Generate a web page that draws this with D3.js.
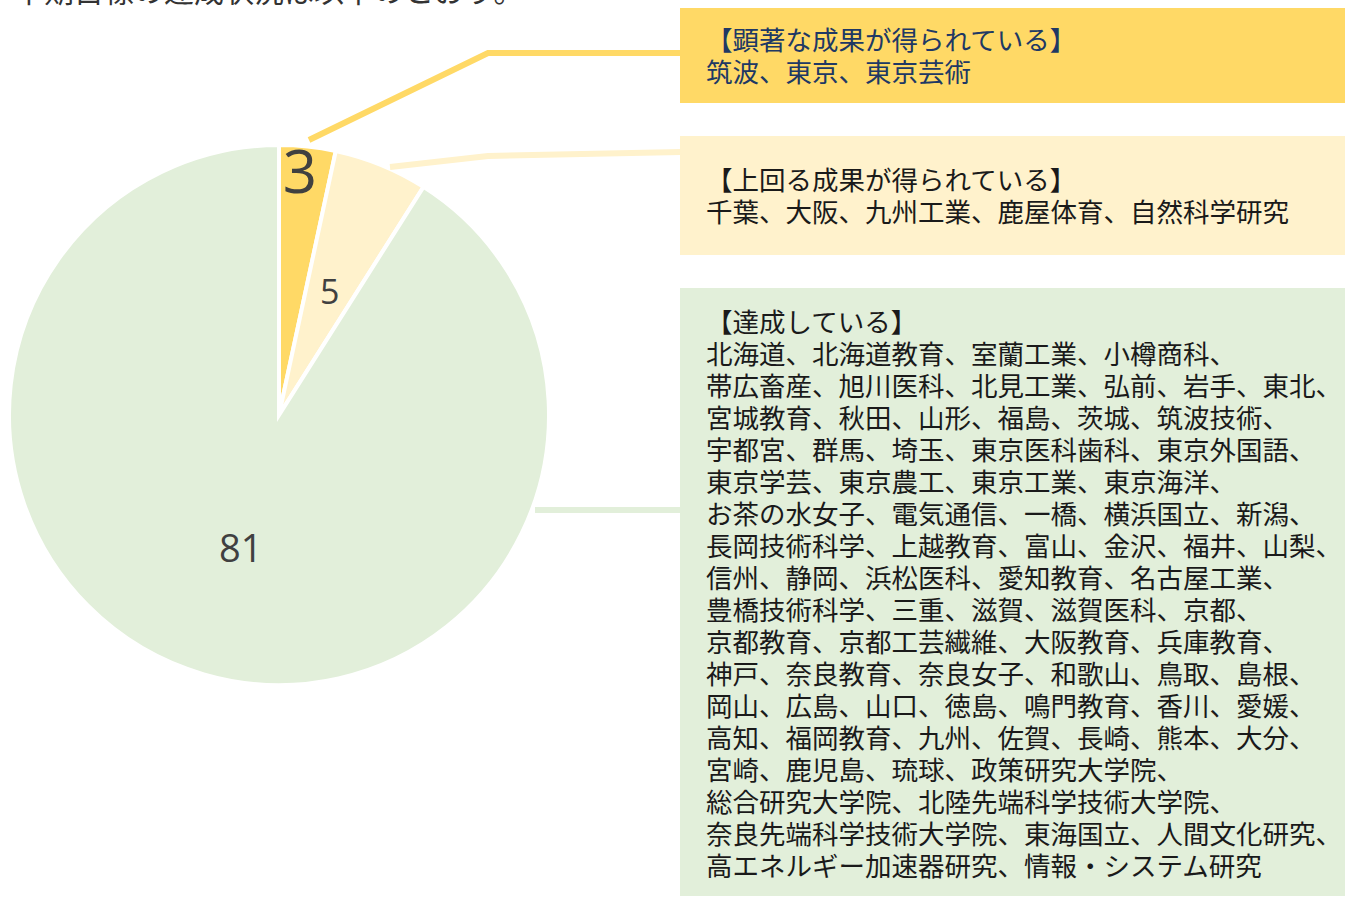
<!DOCTYPE html>
<html lang="ja">
<head>
<meta charset="utf-8">
<script src="https://cdn.jsdelivr.net/npm/d3@7"></script>
<style>
  body { margin: 0; background: #fff; }
  svg { display: block; }
  .jp { font-family: "Noto Sans CJK JP", sans-serif; }
  .num { font-family: "Open Sans", "Noto Sans", sans-serif; fill: #404040; }
</style>
</head>
<body>
<script>
  // data
  const categories = ['顕著な成果が得られている', '上回る成果が得られている', '達成している']
  const counts = [3, 5, 81]
  const colors = ['#ffd966', '#fff2cc', '#e2efda']
  const titleText = '中期目標の達成状況は以下のとおり。'

  const namesNotable = [
    '筑波、東京、東京芸術'
  ]
  const namesAbove = [
    '千葉、大阪、九州工業、鹿屋体育、自然科学研究'
  ]
  const namesAchieved = [
    '北海道、北海道教育、室蘭工業、小樽商科、',
    '帯広畜産、旭川医科、北見工業、弘前、岩手、東北、',
    '宮城教育、秋田、山形、福島、茨城、筑波技術、',
    '宇都宮、群馬、埼玉、東京医科歯科、東京外国語、',
    '東京学芸、東京農工、東京工業、東京海洋、',
    'お茶の水女子、電気通信、一橋、横浜国立、新潟、',
    '長岡技術科学、上越教育、富山、金沢、福井、山梨、',
    '信州、静岡、浜松医科、愛知教育、名古屋工業、',
    '豊橋技術科学、三重、滋賀、滋賀医科、京都、',
    '京都教育、京都工芸繊維、大阪教育、兵庫教育、',
    '神戸、奈良教育、奈良女子、和歌山、鳥取、島根、',
    '岡山、広島、山口、徳島、鳴門教育、香川、愛媛、',
    '高知、福岡教育、九州、佐賀、長崎、熊本、大分、',
    '宮崎、鹿児島、琉球、政策研究大学院、',
    '総合研究大学院、北陸先端科学技術大学院、',
    '奈良先端科学技術大学院、東海国立、人間文化研究、',
    '高エネルギー加速器研究、情報・システム研究'
  ]
  const nameLists = [namesNotable, namesAbove, namesAchieved]

  const w = 1345
  const h = 897
  const cx = 279, cy = 415, r = 270

  const svg = d3.select('body')
    .append('svg')
    .attr('width', w)
    .attr('height', h)

  // cut-off heading at the very top
  svg.append('text')
    .attr('class', 'jp')
    .attr('x', 14)
    .attr('y', 1.5)
    .attr('font-size', 30)
    .attr('fill', '#333')
    .text(titleText)

  const pie = d3.pie().sort(null).value(d => d)
  const arcs = pie(counts)
  const arc = d3.arc().innerRadius(0).outerRadius(r)

  const g = svg.append('g').attr('transform', `translate(${cx},${cy})`)

  g.selectAll('path')
    .data(arcs)
    .enter()
    .append('path')
    .attr('d', arc)
    .style('fill', (d, i) => colors[i])
    .style('stroke', '#fff')
    .style('stroke-width', 4)

  // value labels
  const labelR = [246, 134, 137]
  const labelSize = [60, 34, 38]
  g.selectAll('text.num')
    .data(arcs)
    .enter()
    .append('text')
    .attr('class', 'num')
    .attr('text-anchor', 'middle')
    .attr('dominant-baseline', 'central')
    .attr('font-size', (d, i) => labelSize[i])
    .attr('x', (d, i) => Math.sin((d.startAngle + d.endAngle) / 2) * labelR[i] - (i == 0 ? 5 : 0))
    .attr('y', (d, i) => -Math.cos((d.startAngle + d.endAngle) / 2) * labelR[i])
    .text(d => d.data)

  // category boxes
  const boxX = 680, boxW = 665
  const boxes = [
    {y: 8, h: 95, text: '#203864', first: 50},
    {y: 136, h: 119, text: '#1a1a1a', first: 190},
    {y: 288, h: 608, text: '#1a1a1a', first: 332}
  ]
  const lineH = 32

  boxes.forEach(function(b, i) {
    svg.append('rect')
      .attr('x', boxX).attr('y', b.y)
      .attr('width', boxW).attr('height', b.h)
      .style('fill', colors[i])
    const lines = ['【' + categories[i] + '】'].concat(nameLists[i])
    svg.selectAll('text.box' + i)
      .data(lines)
      .enter()
      .append('text')
      .attr('class', 'jp box' + i)
      .attr('x', 706)
      .attr('y', (d, j) => b.first + j * lineH)
      .attr('font-size', 26.5)
      .attr('fill', b.text)
      .text(d => d)
  })

  // leader lines from slices to boxes
  const leaders = [
    [[309, 140], [488, 53], [681, 53]],
    [[390, 167], [488, 156], [681, 152]],
    [[535, 510], [681, 510]]
  ]
  const line = d3.line()
  svg.selectAll('path.leader')
    .data(leaders)
    .enter()
    .append('path')
    .attr('class', 'leader')
    .attr('d', line)
    .style('fill', 'none')
    .style('stroke', (d, i) => colors[i])
    .style('stroke-width', 6)
</script>
</body>
</html>
